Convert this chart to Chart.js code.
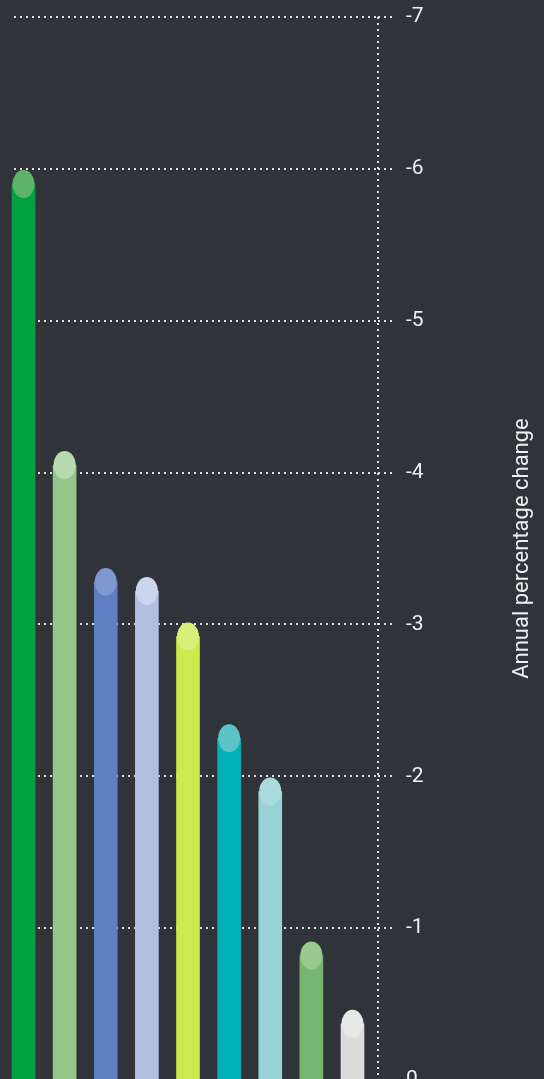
<!DOCTYPE html>
<html>
<head>
<meta charset="utf-8">
<script src="https://cdn.jsdelivr.net/npm/chart.js@4"></script>
<style>
  html, body { margin: 0; padding: 0; background: #31333a; overflow: hidden; }
  #wrap { width: 544px; height: 1100px; }
</style>
</head>
<body>
<div id="wrap"><canvas id="barChart"></canvas></div>
<script>
const categories = ['Item 1', 'Item 2', 'Item 3', 'Item 4', 'Item 5', 'Item 6', 'Item 7', 'Item 8', 'Item 9'];
const values = [-5.9, -4.05, -3.28, -3.22, -2.92, -2.25, -1.9, -0.82, -0.37];
const yTicks = [-7, -6, -5, -4, -3, -2, -1, 0];
const axisTitle = 'Annual percentage change';

const barColors = ['#00a13f', '#95c689', '#5d7ec0', '#b2bfe2', '#cbea4c', '#00b2b7', '#98d2d4', '#76b672', '#dbdbdb'];
const capColors = ['#5db469', '#b8dab1', '#7d98cf', '#cdd5ed', '#d8ef79', '#5cc3c7', '#acd9db', '#97c88d', '#e8e8e8'];

const dotColor = 'rgba(255,255,255,0.85)';
const textColor = '#eeeeee';

// lighter ellipse on top of each bar
const capPlugin = {
    id: 'caps',
    afterDatasetsDraw(chart) {
        const ctx = chart.ctx;
        chart.getDatasetMeta(0).data.forEach((bar, i) => {
            ctx.save();
            ctx.fillStyle = capColors[i];
            ctx.beginPath();
            ctx.ellipse(bar.x, bar.y, bar.width / 2 - 0.5, 14, 0, 0, Math.PI * 2);
            ctx.fill();
            ctx.restore();
        });
    }
};

// axis title reading bottom to top on the right
const sideTitle = {
    id: 'sideTitle',
    afterDraw(chart) {
        const ctx = chart.ctx;
        const area = chart.chartArea;
        ctx.save();
        ctx.translate(chart.width - 22, (area.top + area.bottom) / 2);
        ctx.rotate(-Math.PI / 2);
        ctx.fillStyle = textColor;
        ctx.font = '22px Roboto';
        ctx.textAlign = 'center';
        ctx.textBaseline = 'middle';
        ctx.fillText(axisTitle, 0, 0);
        ctx.restore();
    }
};

const bar = document.getElementById('barChart');

new Chart(bar, {
    type: 'bar',
    data: {
        labels: categories,
        datasets: [{
            data: values.map((v, i) => ({ x: i, y: v })),
            backgroundColor: barColors,
            borderWidth: 0,
            barThickness: 23,
            clip: false,
        }]
    },
    options: {
        responsive: true,
        maintainAspectRatio: false,
        animation: false,
        layout: {
            padding: { left: 14, top: 17, right: 0, bottom: 20 }
        },
        plugins: {
            legend: { display: false },
            tooltip: { enabled: false },
        },
        scales: {
            x: {
                type: 'linear',
                offset: false,
                min: -0.231,
                max: 8.62,
                afterBuildTicks: axis => { axis.ticks = [{ value: 8.62 }]; },
                ticks: { display: false },
                grid: {
                    offset: false,
                    color: dotColor,
                    lineWidth: 2,
                    drawTicks: false,
                },
                border: { display: false, dash: [2, 4] },
            },
            y: {
                position: 'right',
                reverse: true,
                min: -7,
                max: 0,
                afterBuildTicks: axis => { axis.ticks = yTicks.map(v => ({ value: v })); },
                afterFit: axis => {
                    axis.width = 166;
                    axis.paddingTop = 0;
                    axis.paddingBottom = 0;
                },
                ticks: {
                    color: textColor,
                    padding: 14,
                    font: { family: 'Roboto', size: 21 },
                },
                grid: {
                    color: dotColor,
                    lineWidth: 2,
                    tickLength: 14,
                    tickColor: dotColor,
                    tickWidth: 2,
                    tickBorderDash: [2, 4],
                },
                border: { display: false, dash: [2, 4] },
            }
        }
    },
    plugins: [capPlugin, sideTitle]
});
</script>
</body>
</html>
